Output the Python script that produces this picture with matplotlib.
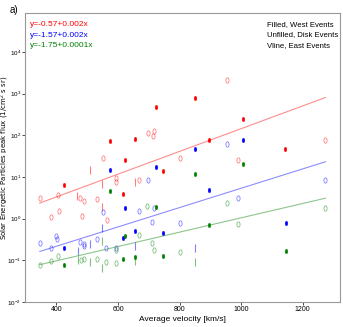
import numpy as np
import matplotlib
matplotlib.use('Agg')
import matplotlib.pyplot as plt

# 字体：Liberation Sans 比 DejaVu 更窄
plt.rcParams['font.family'] = ['Liberation Sans', 'DejaVu Sans']
plt.rcParams['mathtext.fontset'] = 'custom'
plt.rcParams['mathtext.rm'] = 'Liberation Sans'
plt.rcParams['mathtext.it'] = 'Liberation Sans:italic'

# West events (filled)
red_filled_x = [722, 849, 1006, 573, 655, 897, 1144, 622, 745, 423, 615]
red_filled_y = [470, 790, 250, 73, 80, 79, 48, 25, 14, 6.4, 4.0]
blue_filled_x = [849, 1006, 573, 722, 897, 622, 656, 745, 1145, 616, 423]
blue_filled_y = [46, 78, 14.5, 17.7, 5.0, 1.8, 0.51, 0.45, 0.79, 0.35, 0.20]
green_filled_x = [1006, 849, 573, 722, 622, 897, 423, 616, 656, 745, 1145]
green_filled_y = [20, 11.8, 4.5, 1.9, 0.38, 0.72, 0.076, 0.108, 0.12, 0.125, 0.165]

# Disk events (unfilled)
red_open_x = [953, 696, 713, 716, 1274, 800, 550, 991, 595, 595, 667,
              404, 347, 475, 489, 532, 382, 408, 483, 564]
red_open_y = [2180, 115, 98, 130, 79, 28, 29, 26, 9.3, 7.7, 8.6,
              3.8, 3.1, 3.2, 2.6, 3.0, 1.07, 1.5, 1.18, 0.95]
blue_open_x = [954, 696, 1274, 991, 550, 667, 716, 711, 800, 348, 400, 402,
               382, 475, 488, 490, 533, 562, 594]
blue_open_y = [61, 8.3, 8.3, 3.2, 1.45, 1.55, 1.8, 0.83, 0.78, 0.26, 0.38, 0.32,
               0.20, 0.28, 0.25, 0.22, 0.33, 0.20, 0.20]
green_open_x = [695, 954, 1274, 991, 346, 381, 404, 480, 488, 533, 562, 594,
                594, 667, 711, 716, 800]
green_open_y = [2.0, 2.4, 1.8, 0.75, 0.079, 0.095, 0.13, 0.10, 0.11, 0.11, 0.091, 0.087,
                0.18, 0.41, 0.26, 0.18, 0.16]

# East events (vline)
red_vline_x = [510, 549, 656, 468, 549]
red_vline_y = [15, 6.9, 7.5, 3.5, 1.9]
blue_vline_x = [470, 510, 549, 656, 851]
blue_vline_y = [0.17, 0.24, 0.6, 0.22, 0.2]
green_vline_x = [470, 510, 549, 549, 656, 851]
green_vline_y = [0.10, 0.089, 0.29, 0.065, 0.095, 0.09]

# 拟合线 log10(y) = a + b*x
fit_a = {'red': -0.57, 'blue': -1.59, 'green': -1.70}
fit_b = {'red': 0.00273, 'blue': 0.00232, 'green': 0.00172}
fit_labels = {'red': 'y=-0.57+0.002x', 'blue': 'y=-1.57+0.002x', 'green': 'y=-1.75+0.0001x'}
colors = {'red': '#ff0000', 'blue': '#0000ff', 'green': '#008000'}

groups = {
    'red': (red_filled_x, red_filled_y, red_open_x, red_open_y, red_vline_x, red_vline_y),
    'blue': (blue_filled_x, blue_filled_y, blue_open_x, blue_open_y, blue_vline_x, blue_vline_y),
    'green': (green_filled_x, green_filled_y, green_open_x, green_open_y, green_vline_x, green_vline_y),
}

# 竖长椭圆 marker
t = np.linspace(0, 2 * np.pi, 40)
ellipse = np.column_stack([0.6 * np.cos(t), np.sin(t)])

fig = plt.figure(figsize=(3.43, 3.27), dpi=100)
ax = fig.add_axes([0.073, 0.0765, 0.918, 0.8835])

all_x = sum([list(g[0]) + list(g[2]) + list(g[4]) for g in groups.values()], [])
xr = np.array([min(all_x), max(all_x)])

for name, (fx, fy, ox, oy, vx, vy) in groups.items():
    c = colors[name]
    ax.plot(xr, 10 ** (fit_a[name] + fit_b[name] * xr), color=c, alpha=0.45, lw=0.8)
    ax.plot(ox, oy, ls='none', marker=ellipse, ms=3.8, mfc='none', mec=c, mew=0.6, alpha=0.5)
    ax.plot(vx, vy, ls='none', marker='|', ms=6, mec=c, mew=0.8, alpha=0.5)
    ax.plot(fx, fy, ls='none', marker=ellipse, ms=3.2, mfc=c, mec=c, mew=0.3)

ax.set_yscale('log')
ax.set_ylim(1e-2, 8.6e4)
ax.set_xlim(298, 1321)
ax.set_xticks([400, 600, 800, 1000, 1200])
ax.set_yticks([1e-2, 1e-1, 1e0, 1e1, 1e2, 1e3, 1e4])
ax.minorticks_off()
ax.tick_params(labelsize=5, length=2, width=0.5, pad=1.0, colors='black')
ax.tick_params(axis='y', labelsize=4.5, pad=0.8)
for s in ax.spines.values():
    s.set_color('0.6')
    s.set_linewidth(0.8)

ax.set_xlabel('Average velocity [km/s]', fontsize=6, labelpad=2)
ax.set_ylabel('Solar Energetic Particles peak flux (1/cm$^2$ s sr)',
              fontsize=5, family='DejaVu Sans')
ax.yaxis.set_label_coords(-0.064, 0.5)
ax.yaxis.label.set_va('center')

for i, name in enumerate(['red', 'blue', 'green']):
    ax.text(0.016, 0.96 - i * 0.036, fit_labels[name], color=colors[name],
            fontsize=6, transform=ax.transAxes, va='center')

legend_lines = ['Filled, West Events', 'Unfilled, Disk Events', 'Vline, East Events']
for i, s in enumerate(legend_lines):
    ax.text(0.77, 0.96 - i * 0.036, s, color='black', fontsize=5.6,
            transform=ax.transAxes, va='center')

fig.text(0.028, 0.985, 'a)', fontsize=7, va='top')

fig.savefig('out.png', dpi=100)
